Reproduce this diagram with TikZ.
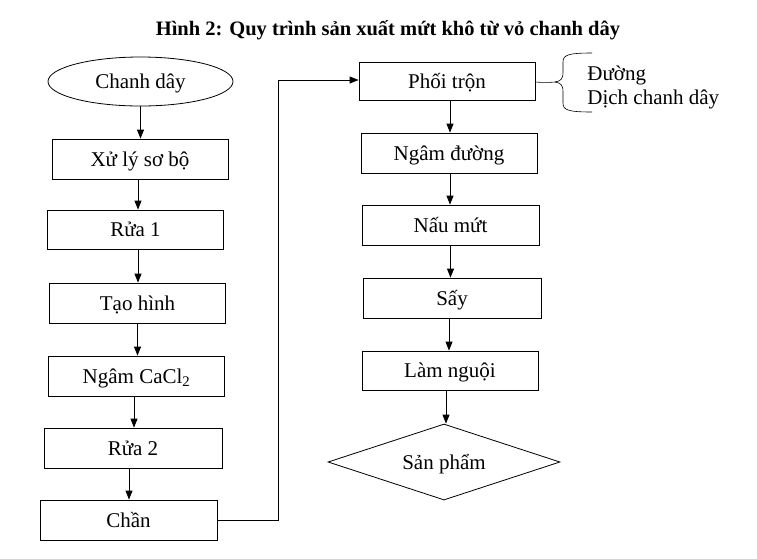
\documentclass[tikz,border=0pt]{standalone}
\usepackage{fontspec}
\setmainfont{Liberation Serif}
\usetikzlibrary{shapes.geometric,arrows.meta}
\begin{document}
\begin{tikzpicture}[x=1pt,y=-1pt,
  line width=0.8pt,
  every node/.style={font=\fontsize{21}{25}\selectfont,text height=18pt,text depth=4pt},
  stepbox/.style={draw,rectangle,minimum width=176pt,minimum height=40pt,inner sep=0pt},
  arr/.style={-{Triangle[length=9pt,width=7pt]}}]
\useasboundingbox (0,0) rectangle (757,558);
\node[font=\fontsize{20.5}{24}\selectfont\bfseries] (title) at (388,28) {Hình 2: Quy trình sản xuất mứt khô từ vỏ chanh dây};
% left column
\node[draw,ellipse,minimum width=185pt,minimum height=49pt,inner sep=0pt] (e) at (140.5,81.5) {Chanh dây};
\node[stepbox] (n1) at (140,159) {Xử lý sơ bộ};
\node[stepbox,minimum height=39pt] (n2) at (135.5,229.5) {Rửa 1};
\node[stepbox] (n3) at (137.5,303) {Tạo hình};
\node[stepbox] (n4) at (136.5,376) {Ngâm CaCl\textsubscript{2}};
\node[stepbox,minimum width=178pt] (n5) at (133,448) {Rửa 2};
\node[stepbox,minimum width=177pt] (n6) at (128.5,520) {Chần};
% right column
\node[stepbox,minimum height=38pt] (m1) at (447,81) {Phối trộn};
\node[stepbox] (m2) at (449,153) {Ngâm đường};
\node[stepbox,minimum width=177pt] (m3) at (450.5,225) {Nấu mứt};
\node[stepbox,minimum width=178pt] (m4) at (452,298) {Sấy};
\node[stepbox,minimum height=39pt] (m5) at (450,370.5) {Làm nguội};
\node[draw,diamond,aspect=3,inner sep=0pt,minimum width=232pt,minimum height=76pt] (d) at (444,462) {Sản phẩm};
% arrows left
\draw[arr] (e.south) -- (e.south |- n1.north);
\draw[arr] ([xshift=-2pt]n1.south) -- ([xshift=-2pt]n1.south |- n2.north);
\draw[arr] (n2.south) ++(2.5pt,0) coordinate (a2) -- (a2 |- n3.north);
\draw[arr] (n3.south) -- (n3.south |- n4.north);
\draw[arr] (n4.south) ++(-2.5pt,0) coordinate (a4) -- (a4 |- n5.north);
\draw[arr] (n5.south) ++(-4pt,0) coordinate (a5) -- (a5 |- n6.north);
% connector
\coordinate (c1) at (278,520);
\coordinate (c2) at (278,80);
\draw[arr] (n6.east |- c1) -- (c1) -- (c2) -- (c2 -| m1.west);
% arrows right
\draw[arr] ([xshift=3pt]m1.south) coordinate (b1) -- (b1 |- m2.north);
\draw[arr] ([xshift=1pt]m2.south) coordinate (b2) -- (b2 |- m3.north);
\draw[arr] (m3.south) coordinate (b3) -- (b3 |- m4.north);
\draw[arr] ([xshift=-3pt]m4.south) coordinate (b4) -- (b4 |- m5.north);
\draw[arr] ([xshift=-4pt]m5.south) coordinate (b5) -- (b5 |- d.north);
% brace
\coordinate (tip) at (555,82);
\draw[line width=0.6pt] (m1.east |- tip) .. controls (548,83) and (553,82) .. (tip)
  .. controls (561,81) and (563,79) .. (563,72) -- (563,62)
  .. controls (563,55) and (568,53) .. (592,53);
\draw[line width=0.6pt] (tip) .. controls (561,83) and (563,85) .. (563,92) -- (563,103)
  .. controls (563,110) and (568,112) .. (592,112);
\node[anchor=west,inner sep=0pt] (t1) at (587,73) {Đường};
\node[anchor=west,inner sep=0pt] (t2) at (587,97) {Dịch chanh dây};
\end{tikzpicture}
\end{document}
